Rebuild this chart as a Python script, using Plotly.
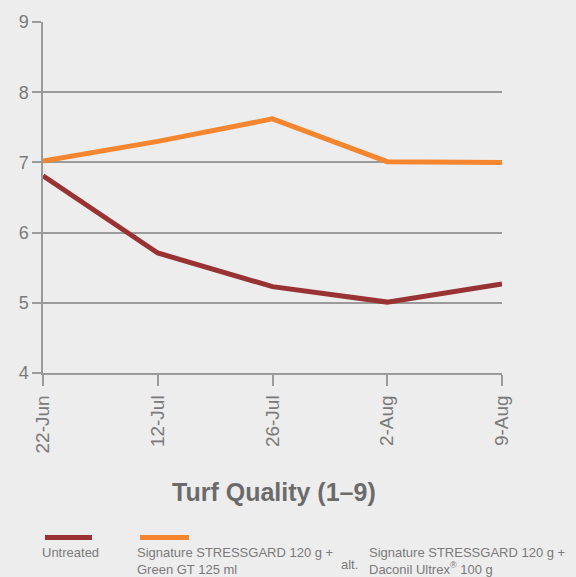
import plotly.graph_objects as go

dates = ["22-Jun", "12-Jul", "26-Jul", "2-Aug", "9-Aug"]
untreated = [6.81, 5.71, 5.23, 5.01, 5.27]
signature = [7.02, 7.30, 7.62, 7.01, 7.00]
y_ticks = [4, 5, 6, 7, 8, 9]

RED = "#993333"
ORANGE = "#f5862f"
GRID = "#9a9a9a"
TXT = "#7a7a7a"
BG = "#ededed"
FONT = "Liberation Sans, Arial, sans-serif"

fig = go.Figure()
fig.add_trace(go.Scatter(x=list(range(len(dates))), y=untreated, mode="lines",
                         line=dict(color=RED, width=5), showlegend=False))
fig.add_trace(go.Scatter(x=list(range(len(dates))), y=signature, mode="lines",
                         line=dict(color=ORANGE, width=5), showlegend=False))

fig.update_layout(
    width=576, height=577,
    margin=dict(l=43, r=74, t=19, b=204),
    paper_bgcolor=BG, plot_bgcolor=BG,
    font=dict(family=FONT, color=TXT),
    xaxis=dict(range=[0, 4], tickvals=list(range(len(dates))), ticktext=dates,
               tickangle=-90, tickfont=dict(size=19, color=TXT),
               showgrid=False, zeroline=False, showline=True,
               linecolor=GRID, linewidth=1.5,
               ticks="outside", ticklen=11, tickcolor=GRID, tickwidth=1.5,
               ticklabelstandoff=2),
    yaxis=dict(range=[4, 9], tickvals=y_ticks, tickfont=dict(size=18, color=TXT),
               showgrid=True, gridcolor=GRID, gridwidth=1.5, zeroline=False,
               showline=True, linecolor=GRID, linewidth=1.5,
               ticks="outside", ticklen=9, tickcolor=GRID, tickwidth=1.5),
)

def px_x(x):
    return (x - 43) / 459

def px_y(y):
    return (373 - y) / 354

# Title
fig.add_annotation(xref="paper", yref="paper", x=px_x(274), y=px_y(493),
                   text="<b>Turf Quality (1–9)</b>", showarrow=False,
                   font=dict(size=25, color="#6b6b6b", family=FONT),
                   xanchor="center", yanchor="middle")

# Legend swatches
fig.add_shape(type="line", xref="paper", yref="paper", x0=px_x(45), x1=px_x(92),
              y0=px_y(539), y1=px_y(539), line=dict(color=RED, width=5))
fig.add_shape(type="line", xref="paper", yref="paper", x0=px_x(140), x1=px_x(189),
              y0=px_y(539), y1=px_y(539), line=dict(color=ORANGE, width=5))

leg_font = dict(size=13, color=TXT, family=FONT)
fig.add_annotation(xref="paper", yref="paper", x=px_x(40), y=px_y(554),
                   text="Untreated", showarrow=False, font=leg_font,
                   xanchor="left", yanchor="middle", align="left")
fig.add_annotation(xref="paper", yref="paper", x=px_x(135), y=px_y(562.5),
                   text="Signature STRESSGARD 120 g +<br>Green GT 125 ml", showarrow=False,
                   font=leg_font, xanchor="left", yanchor="middle", align="left")
fig.add_annotation(xref="paper", yref="paper", x=px_x(339), y=px_y(566),
                   text="alt.", showarrow=False, font=leg_font,
                   xanchor="left", yanchor="middle", align="left")
fig.add_annotation(xref="paper", yref="paper", x=px_x(367), y=px_y(562.5),
                   text="Signature STRESSGARD 120 g +<br>Daconil Ultrex<sup>®</sup> 100 g", showarrow=False,
                   font=leg_font, xanchor="left", yanchor="middle", align="left")

fig.write_html("out.html", config={"displayModeBar": False},
               post_script="document.body.style.margin='0';document.body.style.background='#ededed';")
